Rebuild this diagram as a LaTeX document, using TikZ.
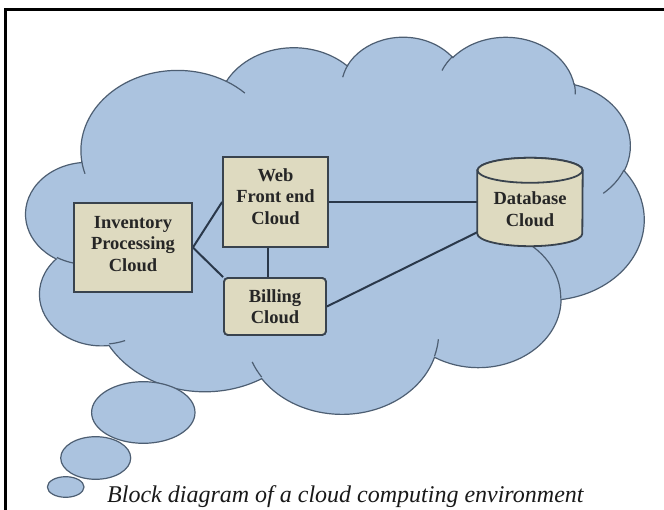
\documentclass[tikz,border=0pt]{standalone}
\usepackage{fontspec}
\setmainfont{Liberation Serif}
\usepackage{tikz}
\definecolor{cloudblue}{HTML}{ABC3DF}
\definecolor{cloudedge}{HTML}{4D5E72}
\definecolor{boxfill}{HTML}{DEDAC0}
\definecolor{boxedge}{HTML}{39434E}
\definecolor{linkcol}{HTML}{2A384A}
% visual-angle (DrawingML) arc -> parametric start angle and delta
\newcommand\oocalc[5]{%
  \pgfmathsetmacro\ootmpa{atan2((#2)*sin(#4),(#3)*cos(#4))}%
  \pgfmathsetmacro\ootmpa{\ootmpa+360*round(((#4)-\ootmpa)/360)}%
  \pgfmathsetmacro\ootmpb{atan2((#2)*sin((#4)+(#5)),(#3)*cos((#4)+(#5)))}%
  \pgfmathsetmacro\ootmpb{\ootmpb+360*round(((#4)+(#5)-\ootmpb)/360)}%
  \pgfmathsetmacro\ootmpc{\ootmpb-\ootmpa}%
  \expandafter\let\csname oots#1\endcsname\ootmpa
  \expandafter\let\csname oodt#1\endcsname\ootmpc
}
\begin{document}
\begin{tikzpicture}[x=1pt,y=-1pt,
  boxnode/.style={draw=boxedge, line width=1.8pt, fill=boxfill, inner sep=0pt},
  boxtext/.style={font=\fontsize{18.5}{21.5}\selectfont\bfseries, align=center, text=black!85, inner sep=0pt},
  link/.style={draw=linkcol, line width=2pt},
  cloudfill/.style={fill=cloudblue, draw=cloudedge, line width=1.2pt},
  cloudline/.style={draw=cloudedge, line width=1.2pt}]
\useasboundingbox (0,0) rectangle (664,510);
\fill[white] (0,0) rectangle (664,510);
% main outline arcs
\oocalc{A}{6.753}{9.190}{-190.4875}{123.7805}
\oocalc{B}{5.333}{7.267}{-144.1024}{89.9452}
\oocalc{C}{4.365}{5.945}{-145.8079}{99.7230}
\oocalc{D}{4.857}{6.595}{-130.9861}{117.2417}
\oocalc{E}{5.333}{7.273}{-78.7089}{109.0269}
\oocalc{F}{6.775}{9.220}{-46.2673}{130.2690}
\oocalc{G}{5.785}{7.867}{0.6250}{114.0333}
\oocalc{H}{6.752}{9.215}{22.4516}{115.1726}
\oocalc{I}{7.720}{10.543}{66.2426}{75.7110}
\oocalc{J}{4.360}{5.918}{-274.9421}{146.7356}
\oocalc{K}{4.345}{5.945}{-246.8285}{152.5189}
% inner arcs
\oocalc{a}{4.345}{5.945}{86.7420}{26.4295}
\oocalc{b}{4.360}{5.918}{73.6105}{11.4475}
\oocalc{c}{6.752}{9.215}{137.6242}{14.0811}
\oocalc{d}{6.752}{9.215}{6.4533}{15.9984}
\oocalc{e}{5.785}{7.867}{-70.2924}{70.9174}
\oocalc{f}{5.333}{7.273}{30.3180}{27.7515}
\oocalc{g}{4.857}{6.595}{-13.7443}{14.8589}
\oocalc{h}{4.857}{6.595}{-149.1815}{18.1954}
\oocalc{i}{4.365}{5.945}{-163.4943}{17.6864}
\oocalc{j}{6.753}{9.190}{-66.7070}{12.3194}
\oocalc{k}{6.753}{9.190}{157.6544}{11.8582}
\begin{scope}[shift={(26,36)}, x=14.30556pt, y=-8.72685pt]
  \path[cloudfill] (3.900,14.370)
    arc[x radius=6.753, y radius=9.190, start angle=\ootsA, delta angle=\oodtA]
    arc[x radius=5.333, y radius=7.267, start angle=\ootsB, delta angle=\oodtB]
    arc[x radius=4.365, y radius=5.945, start angle=\ootsC, delta angle=\oodtC]
    arc[x radius=4.857, y radius=6.595, start angle=\ootsD, delta angle=\oodtD]
    arc[x radius=5.333, y radius=7.273, start angle=\ootsE, delta angle=\oodtE]
    arc[x radius=6.775, y radius=9.220, start angle=\ootsF, delta angle=\oodtF]
    arc[x radius=5.785, y radius=7.867, start angle=\ootsG, delta angle=\oodtG]
    arc[x radius=6.752, y radius=9.215, start angle=\ootsH, delta angle=\oodtH]
    arc[x radius=7.720, y radius=10.543, start angle=\ootsI, delta angle=\oodtI]
    arc[x radius=4.360, y radius=5.918, start angle=\ootsJ, delta angle=\oodtJ]
    arc[x radius=4.345, y radius=5.945, start angle=\ootsK, delta angle=\oodtK]
    -- cycle;
  \path[cloudline]
    (4.693,26.177) arc[x radius=4.345, y radius=5.945, start angle=\ootsa, delta angle=\oodta]
    (6.928,34.899) arc[x radius=4.360, y radius=5.918, start angle=\ootsb, delta angle=\oodtb]
    (16.478,39.090) arc[x radius=6.752, y radius=9.215, start angle=\ootsc, delta angle=\oodtc]
    (28.827,34.751) arc[x radius=6.752, y radius=9.215, start angle=\ootsd, delta angle=\oodtd]
    (34.129,22.954) arc[x radius=5.785, y radius=7.867, start angle=\ootse, delta angle=\oodte]
    (41.798,15.354) arc[x radius=5.333, y radius=7.273, start angle=\ootsf, delta angle=\oodtf]
    (38.324,5.426) arc[x radius=4.857, y radius=6.595, start angle=\ootsg, delta angle=\oodtg]
    (29.078,3.952) arc[x radius=4.857, y radius=6.595, start angle=\ootsh, delta angle=\oodth]
    (22.141,4.720) arc[x radius=4.365, y radius=5.945, start angle=\ootsi, delta angle=\oodti]
    (14.000,5.192) arc[x radius=6.753, y radius=9.190, start angle=\ootsj, delta angle=\oodtj]
    (4.127,15.789) arc[x radius=6.753, y radius=9.190, start angle=\ootsk, delta angle=\oodtk];
\end{scope}
% thought bubbles
\path[cloudfill] (143.3,412.5) ellipse[x radius=51.7, y radius=30.8];
\path[cloudfill] (95.7,458) ellipse[x radius=35, y radius=21.3];
\path[cloudfill] (65.7,487) ellipse[x radius=18.3, y radius=10.3];
% boxes (geometry)
\node[boxnode, minimum width=118pt, minimum height=89pt] (inv) at (133,247.5) {};
\node[boxnode, minimum width=105pt, minimum height=90pt] (web) at (275.5,202) {};
\node[boxnode, rounded corners=4pt, minimum width=102pt, minimum height=57pt] (bill) at (275,306.5) {};
\node[inner sep=0pt, minimum width=105pt, minimum height=88pt] (db) at (530,202) {};
% connectors
\draw[link] (inv.east) -- (web.west);
\draw[link] (inv.east) -- (bill.north west);
\draw[link] ([xshift=-7.5pt]web.south) -- ([xshift=-7.5pt]web.south |- bill.north);
\draw[link] (web.east) -- (db.west);
\draw[link] (bill.east) -- ([yshift=14pt]db.south west);
% redraw boxes on top of connectors
\node[boxnode, minimum width=118pt, minimum height=89pt] at (inv) {};
\node[boxnode, minimum width=105pt, minimum height=90pt] at (web) {};
\node[boxnode, rounded corners=4pt, minimum width=102pt, minimum height=57pt] at (bill) {};
% database cylinder
\path[boxnode] ([yshift=-12.5pt]db.north west) -- ([yshift=12.5pt]db.south west)
   arc[x radius=52.5pt, y radius=12.5pt, start angle=180, end angle=360]
   -- ([yshift=-12.5pt]db.north east)
   arc[x radius=52.5pt, y radius=12.5pt, start angle=0, end angle=180] -- cycle;
\path[boxnode] ([yshift=-12.5pt]db.north) ellipse[x radius=52.5pt, y radius=12.5pt];
% texts
\node[boxtext] (invtxt) at (133,244) {Inventory\\Processing\\Cloud};
\node[boxtext] (webtxt) at (275.5,196.5) {Web\\Front end\\Cloud};
\node[boxtext] (billtxt) at (275,306.5) {Billing\\Cloud};
\node[boxtext] (dbtxt) at (530,209) {Database\\Cloud};
\node[font=\fontsize{24}{28}\selectfont\itshape, text=black!90, anchor=base west, inner sep=0pt] (caption) at (107,502) {Block diagram of a cloud computing environment};
% frame
\draw[line width=2.5pt, black] (5.5,510) -- (5.5,9.5) -- (664,9.5);
\end{tikzpicture}
\end{document}
